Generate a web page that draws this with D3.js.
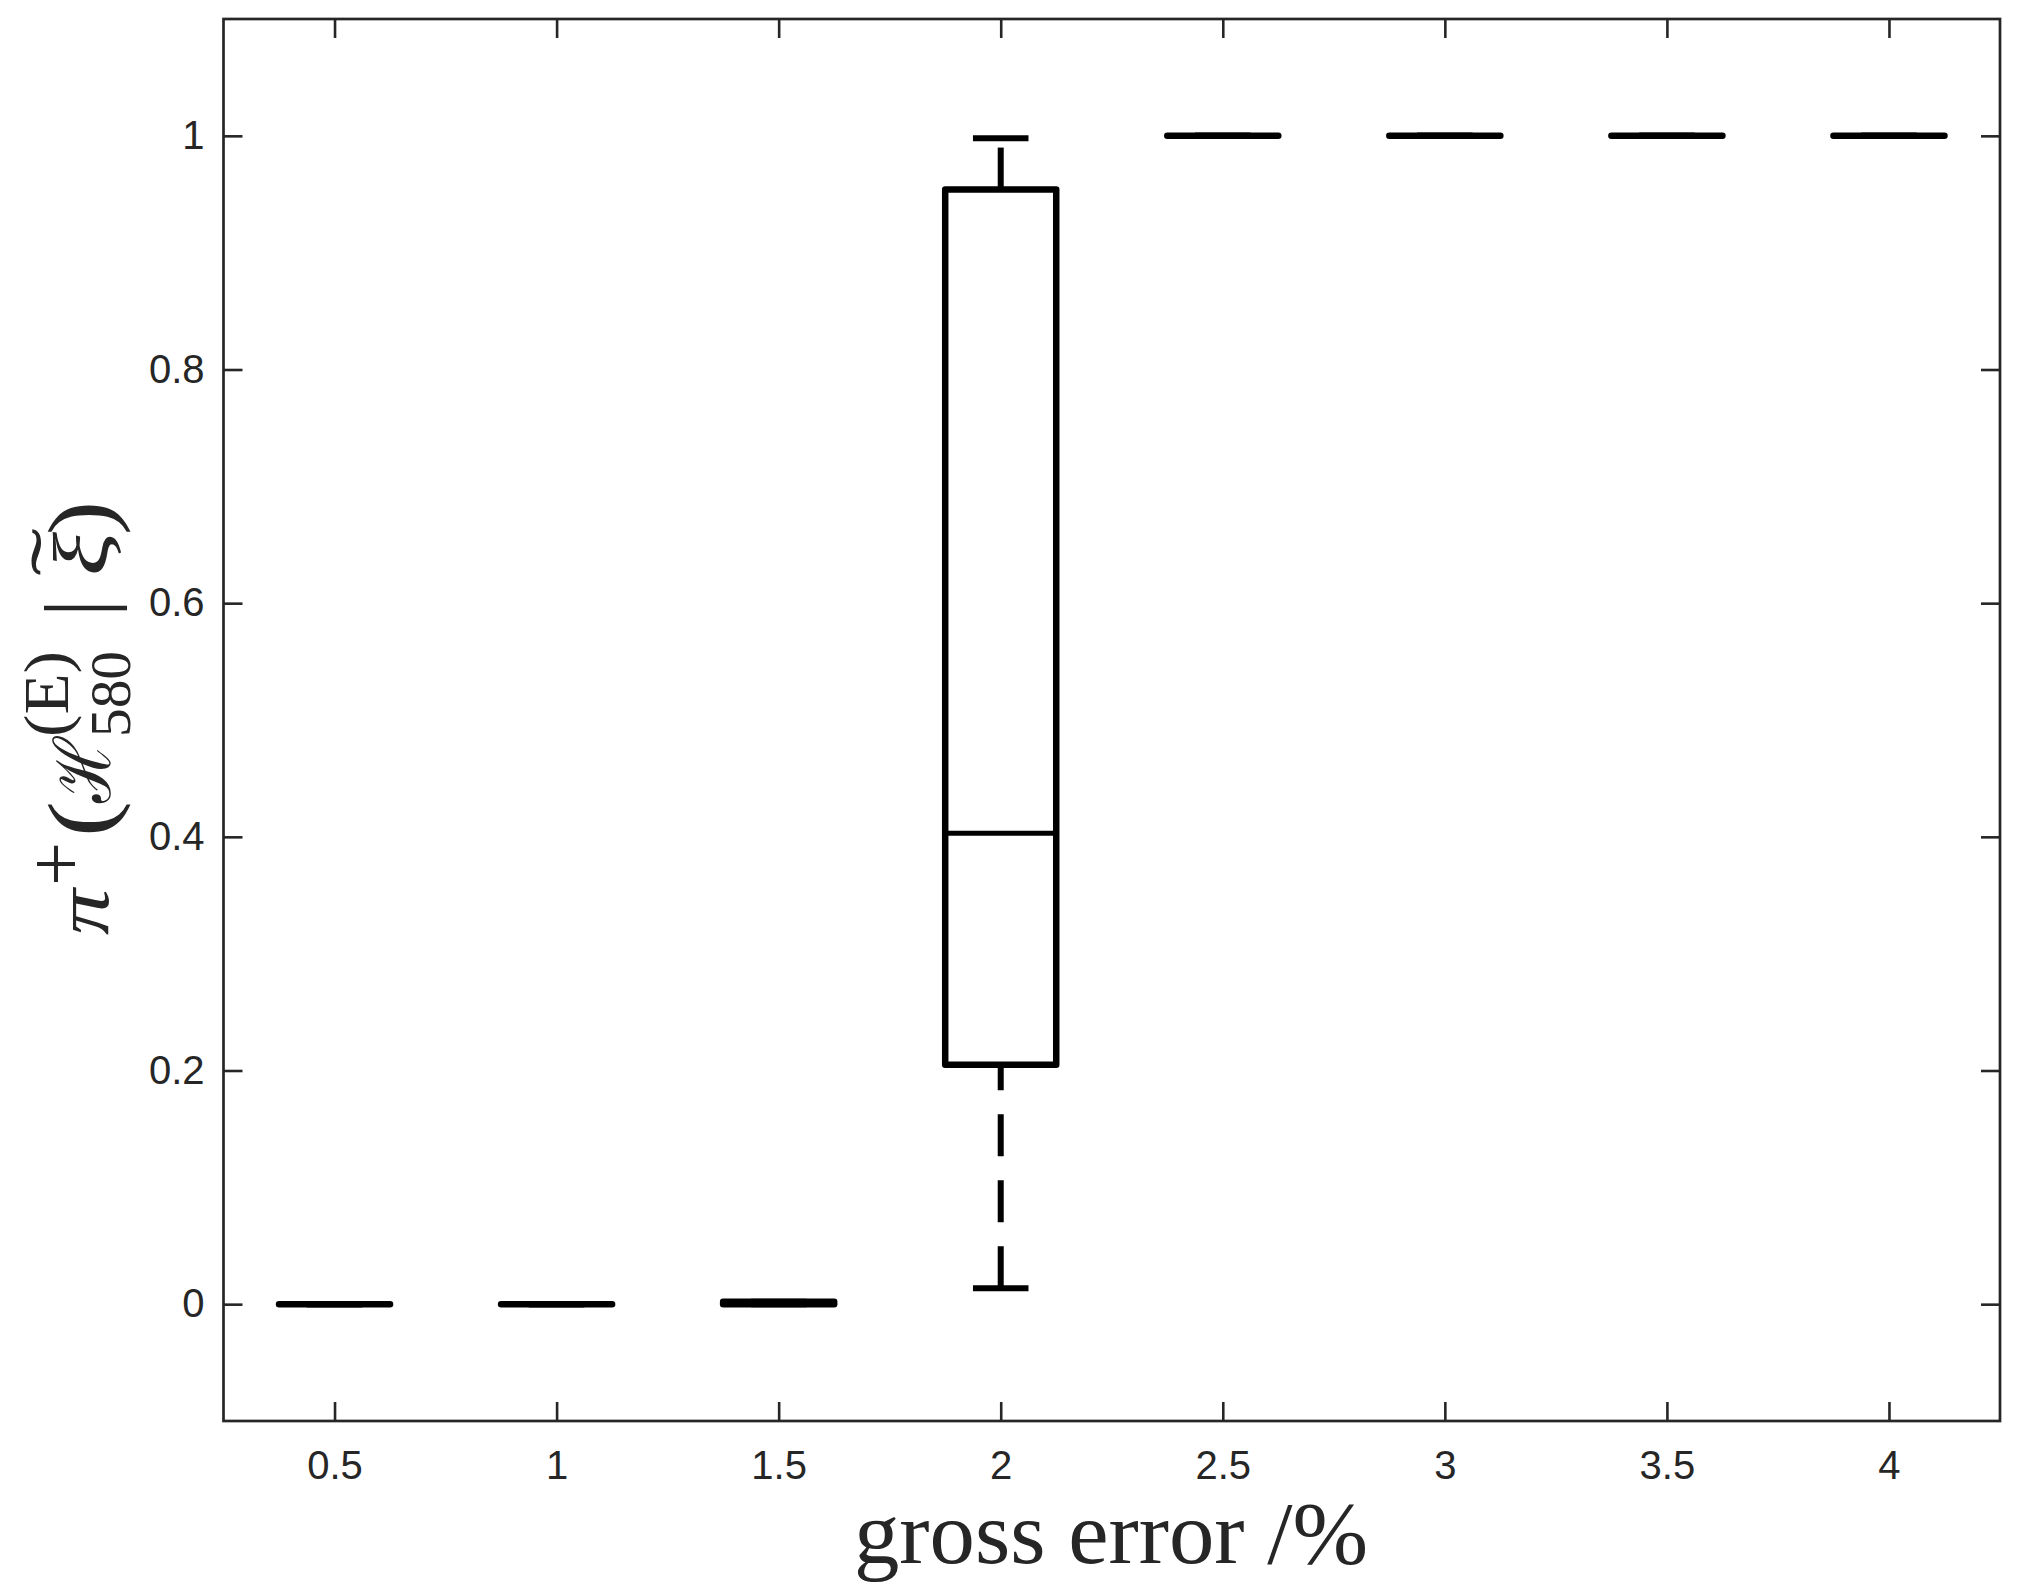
<!DOCTYPE html>
<html>
<head>
<meta charset="utf-8">
<script src="https://cdn.jsdelivr.net/npm/d3@7"></script>
<style>
  html, body { margin: 0; padding: 0; background: #fff; }
  svg { display: block; }
</style>
</head>
<body>
<svg id="chart" width="2029" height="1594"></svg>
<script>
// ---- data ----
const categories = [0.5, 1, 1.5, 2, 2.5, 3, 3.5, 4];
const lowerWhisker = [0, 0, 0, 0.0137, 1, 1, 1, 1];
const q1 = [0, 0, 0, 0.205, 1, 1, 1, 1];
const median = [0, 0, 0, 0.403, 1, 1, 1, 1];
const q3 = [0, 0, 0.002, 0.954, 1, 1, 1, 1];
const upperWhisker = [0, 0, 0.002, 0.998, 1, 1, 1, 1];
const xTicks = [0.5, 1, 1.5, 2, 2.5, 3, 3.5, 4];
const xTickLabels = ["0.5", "1", "1.5", "2", "2.5", "3", "3.5", "4"];
const yTicks = [0, 0.2, 0.4, 0.6, 0.8, 1];
const yTickLabels = ["0", "0.2", "0.4", "0.6", "0.8", "1"];
const xLabel = "gross error /%";

// ---- layout ----
const L = 223.5, R = 2000, T = 19, B = 1421;
const axisColor = "#262626";
const svg = d3.select("#chart");
const x = d3.scaleLinear().domain([0.25, 4.25]).range([L, R]);
const y = d3.scaleLinear().domain([-0.1, 1.1]).range([B, T]);
const boxW = 0.25, capW = 0.125;

// ---- axes ----
function styleAxis(g, showLabels) {
  g.select(".domain").remove();
  g.selectAll(".tick line").attr("stroke", axisColor).attr("stroke-width", 2.6);
  g.selectAll(".tick text")
    .attr("fill", axisColor)
    .style("font-family", "'Liberation Sans', Arial, Helvetica, sans-serif")
    .style("font-size", "40px");
  if (!showLabels) g.selectAll(".tick text").remove();
}
const fmtX = (d, i) => xTickLabels[i];
const fmtY = (d, i) => yTickLabels[i];

svg.append("g").attr("transform", `translate(0,${B})`)
  .call(d3.axisBottom(x).tickValues(xTicks).tickFormat(fmtX).tickSizeInner(-19).tickSizeOuter(0).tickPadding(30))
  .call(g => styleAxis(g, true))
  .call(g => g.selectAll(".tick text").attr("dy", "0.71em"));
svg.append("g").attr("transform", `translate(0,${T})`)
  .call(d3.axisTop(x).tickValues(xTicks).tickSizeInner(-19).tickSizeOuter(0))
  .call(g => styleAxis(g, false));
svg.append("g").attr("transform", `translate(${L},0)`)
  .call(d3.axisLeft(y).tickValues(yTicks).tickFormat(fmtY).tickSizeInner(-19).tickSizeOuter(0).tickPadding(19))
  .call(g => styleAxis(g, true));
svg.append("g").attr("transform", `translate(${R},0)`)
  .call(d3.axisRight(y).tickValues(yTicks).tickSizeInner(-19).tickSizeOuter(0))
  .call(g => styleAxis(g, false));

svg.append("rect")
  .attr("x", L).attr("y", T).attr("width", R - L).attr("height", B - T)
  .attr("fill", "none").attr("stroke", axisColor).attr("stroke-width", 2.7);

// ---- boxes ----
const data = categories.map((c, i) => ({
  c, lw: lowerWhisker[i], q1: q1[i], med: median[i], q3: q3[i], uw: upperWhisker[i]
}));
const marks = svg.append("g").attr("stroke", "#000").attr("fill", "none").attr("stroke-width", 6);

const grp = marks.selectAll("g.box").data(data).join("g").attr("class", "box");
// whiskers (drawn from lower value to higher value)
grp.filter(d => d.q3 < d.uw).append("line")
  .attr("x1", d => x(d.c)).attr("x2", d => x(d.c))
  .attr("y1", d => y(d.q3)).attr("y2", d => y(d.uw))
  .attr("stroke-dasharray", "42,24");
grp.filter(d => d.lw < d.q1).append("line")
  .attr("x1", d => x(d.c)).attr("x2", d => x(d.c))
  .attr("y1", d => y(d.lw)).attr("y2", d => y(d.q1))
  .attr("stroke-dasharray", "42,24");
// caps
grp.append("line")
  .attr("x1", d => x(d.c - capW / 2)).attr("x2", d => x(d.c + capW / 2))
  .attr("y1", d => y(d.uw)).attr("y2", d => y(d.uw));
grp.append("line")
  .attr("x1", d => x(d.c - capW / 2)).attr("x2", d => x(d.c + capW / 2))
  .attr("y1", d => y(d.lw)).attr("y2", d => y(d.lw));
// box outline as a closed path (so zero-height boxes are still drawn)
grp.append("path")
  .attr("d", d => {
    const x0 = x(d.c - boxW / 2), x1 = x(d.c + boxW / 2);
    const yt = y(d.q3), yb = y(d.q1);
    return `M${x0},${yb}L${x0},${yt}L${x1},${yt}L${x1},${yb}Z`;
  })
  .attr("stroke-linejoin", "round")
  .attr("stroke-width", 6.5);
// median
grp.append("line")
  .attr("x1", d => x(d.c - boxW / 2)).attr("x2", d => x(d.c + boxW / 2))
  .attr("y1", d => y(d.med)).attr("y2", d => y(d.med))
  .attr("stroke-width", 5);

// ---- x label ----
svg.append("text")
  .attr("x", (854 + 1368) / 2).attr("y", 1563)
  .attr("text-anchor", "middle")
  .attr("fill", axisColor)
  .style("font-family", "'Liberation Serif', 'DejaVu Serif', serif")
  .style("font-size", "88px")
  .attr("textLength", 514).attr("lengthAdjust", "spacingAndGlyphs")
  .text(xLabel);

// ---- y label (math) ----
// local coords: u along the label (upwards on screen), v = screen x
const yl = svg.append("g").attr("transform", `translate(0,933) rotate(-90)`)
  .attr("fill", axisColor)
  .style("font-family", "'Liberation Serif', 'DejaVu Serif', serif");
function placed(str, u0, len, base, size, opts = {}) {
  yl.append("text")
    .attr("x", u0).attr("y", base)
    .attr("textLength", len).attr("lengthAdjust", "spacingAndGlyphs")
    .style("font-size", size + "px")
    .style("font-style", opts.italic ? "italic" : "normal")
    .style("font-family", opts.family || null)
    .text(str);
}
placed("π", -2, 46, 108, 76, { italic: true });
placed("+", 47, 44, 83, 80);
placed("(", 96, 36, 111, 92);
placed("ℋ", 130, 66, 110, 78, { family: "'DejaVu Serif', serif" });
placed("(E)", 196, 86, 68, 64);
placed("580", 196, 86, 130, 56);
placed("|", 316, 18, 108, 90);
placed("ξ", 357, 44, 108, 78, { italic: true });
placed("˜", 357, 48, 82, 74);
placed(")", 398, 34, 111, 92);
</script>
</body>
</html>
